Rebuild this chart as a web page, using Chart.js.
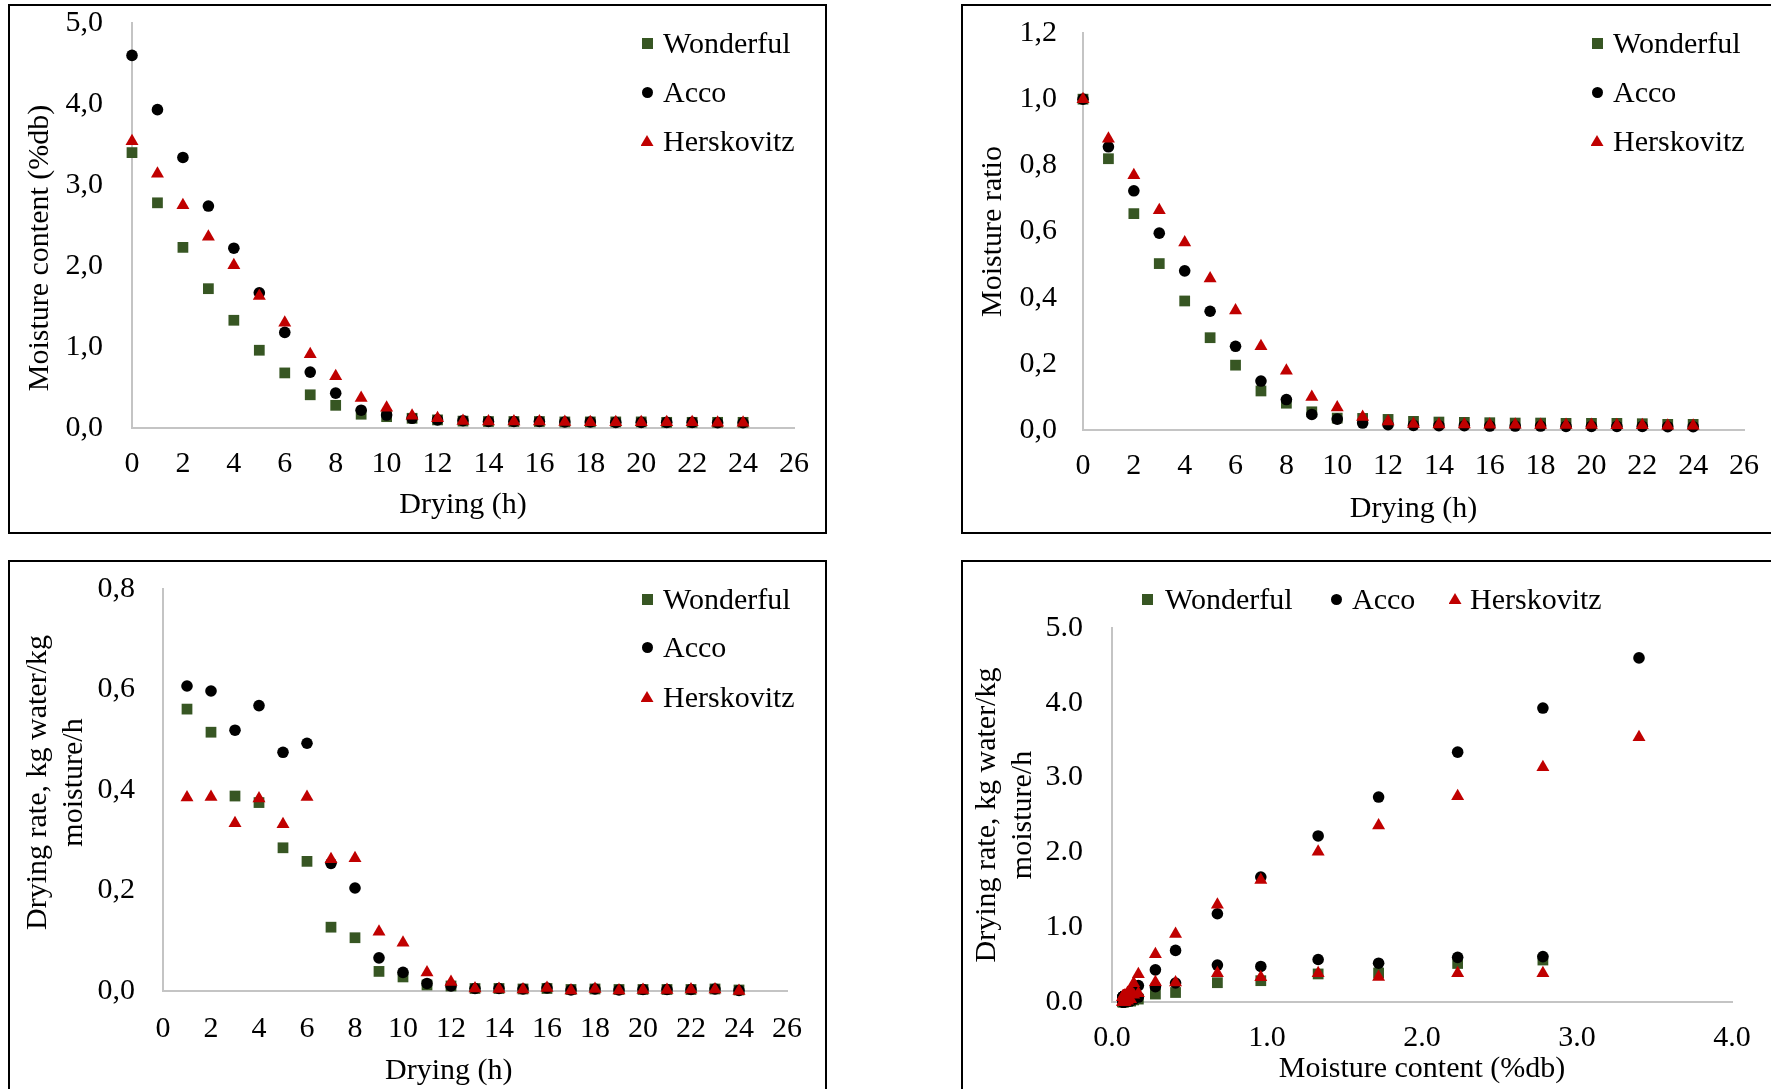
<!DOCTYPE html>
<html>
<head>
<meta charset="utf-8">
<script src="https://cdn.jsdelivr.net/npm/chart.js@4.4.0/dist/chart.umd.min.js"></script>
<style>
  body { margin: 0; width: 1771px; height: 1089px; overflow: hidden; background: #fff; position: relative; font-family: "Liberation Serif", "Times New Roman", serif; }
  canvas { position: absolute; }
  .frame { position: absolute; border: 2px solid #000; box-sizing: border-box; pointer-events: none; }
  .leg { position: absolute; font-size: 30px; line-height: 30px; color: #000; white-space: nowrap; }
  .mk { position: absolute; }
</style>
</head>
<body>
<canvas id="c1" width="816" height="528" style="left:9px;top:5px;width:816px;height:528px"></canvas>
<canvas id="c2" width="809" height="528" style="left:962px;top:5px;width:809px;height:528px"></canvas>
<canvas id="c3" width="816" height="528" style="left:9px;top:561px;width:816px;height:528px"></canvas>
<canvas id="c4" width="809" height="528" style="left:962px;top:561px;width:809px;height:528px"></canvas>
<div class="frame" style="left:8px;top:4px;width:819px;height:530px"></div>
<div class="frame" style="left:961px;top:4px;width:820px;height:530px"></div>
<div class="frame" style="left:8px;top:560px;width:819px;height:540px"></div>
<div class="frame" style="left:961px;top:560px;width:820px;height:540px"></div>
<script>
// drying time (h)
const hours = [0, 1, 2, 3, 4, 5, 6, 7, 8, 9, 10, 11, 12, 13, 14, 15, 16, 17, 18, 19, 20, 21, 22, 23, 24];
const rateHours = [1, 2, 3, 4, 5, 6, 7, 8, 9, 10, 11, 12, 13, 14, 15, 16, 17, 18, 19, 20, 21, 22, 23, 24];

// moisture content (%db)
const mcWonderful = [3.40, 2.78, 2.23, 1.72, 1.33, 0.96, 0.68, 0.41, 0.28, 0.17, 0.14, 0.12, 0.10, 0.085, 0.08, 0.08, 0.08, 0.075, 0.075, 0.075, 0.075, 0.07, 0.07, 0.07, 0.07];
const mcAcco = [4.60, 3.93, 3.34, 2.74, 2.22, 1.67, 1.18, 0.69, 0.43, 0.22, 0.16, 0.12, 0.10, 0.09, 0.08, 0.08, 0.08, 0.075, 0.075, 0.07, 0.07, 0.07, 0.07, 0.065, 0.065];
const mcHerskovitz = [3.54, 3.14, 2.75, 2.36, 2.01, 1.63, 1.30, 0.91, 0.64, 0.37, 0.25, 0.15, 0.12, 0.085, 0.08, 0.08, 0.08, 0.075, 0.07, 0.07, 0.07, 0.07, 0.07, 0.065, 0.065];

// moisture ratio
const mrWonderful = [1.0, 0.82, 0.654, 0.503, 0.39, 0.279, 0.196, 0.118, 0.081, 0.055, 0.036, 0.035, 0.032, 0.026, 0.024, 0.023, 0.022, 0.021, 0.021, 0.020, 0.020, 0.020, 0.019, 0.017, 0.017];
const mrAcco = [1.0, 0.856, 0.723, 0.595, 0.481, 0.359, 0.253, 0.148, 0.092, 0.047, 0.033, 0.021, 0.016, 0.014, 0.013, 0.013, 0.012, 0.012, 0.012, 0.011, 0.011, 0.011, 0.011, 0.010, 0.010];
const mrHerskovitz = [1.0, 0.88, 0.77, 0.664, 0.567, 0.458, 0.361, 0.253, 0.179, 0.10, 0.068, 0.039, 0.026, 0.018, 0.017, 0.017, 0.016, 0.016, 0.015, 0.015, 0.015, 0.014, 0.014, 0.013, 0.013];

// drying rate, kg water/kg moisture/h (from hour 1)
const drWonderful = [0.561, 0.515, 0.388, 0.375, 0.285, 0.258, 0.127, 0.106, 0.039, 0.028, 0.012, 0.010, 0.005, 0.005, 0.004, 0.005, 0.003, 0.004, 0.003, 0.003, 0.003, 0.003, 0.004, 0.002];
const drAcco = [0.607, 0.597, 0.519, 0.568, 0.475, 0.493, 0.254, 0.205, 0.066, 0.037, 0.015, 0.010, 0.005, 0.005, 0.004, 0.006, 0.002, 0.004, 0.002, 0.003, 0.003, 0.003, 0.004, 0.001];
const drHerskovitz = [0.385, 0.386, 0.334, 0.383, 0.332, 0.386, 0.262, 0.264, 0.118, 0.096, 0.037, 0.018, 0.005, 0.004, 0.003, 0.006, 0.001, 0.004, 0.001, 0.002, 0.002, 0.003, 0.003, 0.0];

const seriesNames = ['Wonderful', 'Acco', 'Herskovitz'];

const FONT = '"Liberation Serif", "Times New Roman", serif';
const AXIS = '#c4c4c4';
const STYLES = {
    Wonderful: { shape: 'rect', r: 7.6, color: '#375623', order: 2 },
    Acco: { shape: 'circle', r: 5.8, color: '#000000', order: 1 },
    Herskovitz: { shape: 'triangle', r: 7.5, color: '#c00000', order: 0 }
};
const NB = '\u00a0';

function series(name, xs, ys) {
    const st = STYLES[name];
    return {
        label: name,
        data: xs.map((x, i) => ({ x: x, y: ys[i] })),
        pointStyle: st.shape,
        pointRadius: st.r,
        pointHoverRadius: st.r,
        backgroundColor: st.color,
        borderColor: st.color,
        pointBorderWidth: 0,
        showLine: false,
        clip: false,
        order: st.order
    };
}

const comma = v => Number(v).toFixed(1).replace('.', ',');
const dot = v => Number(v).toFixed(1);
const whole = v => String(v);

// axis boxes keep a fixed size, and their label overhang must not move the plot area
function fixBox(s, size) {
    if (s.isHorizontal()) s.height = size; else s.width = size;
    s.paddingTop = 0; s.paddingBottom = 0; s.paddingLeft = 0; s.paddingRight = 0;
}

function scatterChart(id, area, datasets, xa, ya) {
    const canvas = document.getElementById(id);
    const W = canvas.width, H = canvas.height;
    const tickFont = { family: FONT, size: 30, lineHeight: 1 };
    const titleFont = { family: FONT, size: 30, lineHeight: 1.2 };
    return new Chart(canvas, {
        type: 'scatter',
        data: { datasets: datasets },
        options: {
            responsive: false,
            animation: false,
            devicePixelRatio: 1,
            layout: { padding: { left: 0, top: area.top, right: W - area.right, bottom: 0 } },
            plugins: { legend: { display: false }, tooltip: { enabled: false } },
            scales: {
                x: {
                    type: 'linear', min: xa.min, max: xa.max,
                    afterFit: s => fixBox(s, H - area.bottom),
                    grid: { display: false, drawTicks: false },
                    border: { display: true, color: AXIS, width: 2 },
                    ticks: { stepSize: xa.step, padding: xa.pad, color: '#000', font: tickFont, maxRotation: 0, autoSkip: false, callback: xa.fmt },
                    title: { display: true, text: xa.title, color: '#000', font: titleFont, padding: { top: 0, bottom: xa.titlePad } }
                },
                y: {
                    type: 'linear', min: ya.min, max: ya.max,
                    afterFit: s => fixBox(s, area.left),
                    grid: { display: false, drawTicks: false },
                    border: { display: true, color: AXIS, width: 2 },
                    ticks: { stepSize: ya.step, padding: ya.pad, color: '#000', font: tickFont, autoSkip: false, callback: ya.fmt },
                    title: { display: true, text: ya.title, color: '#000', font: titleFont, padding: { top: ya.titlePad, bottom: 0 } }
                }
            }
        }
    });
}

// Moisture content vs drying time
scatterChart('c1', { left: 123, right: 785, top: 18, bottom: 423 },
    [series('Wonderful', hours, mcWonderful), series('Acco', hours, mcAcco), series('Herskovitz', hours, mcHerskovitz)],
    { min: 0, max: 26, step: 2, pad: 21, fmt: whole, title: 'Drying (h)', titlePad: 10 },
    { min: 0, max: 5, step: 1, pad: 29, fmt: comma, title: 'Moisture content (%db)' + NB.repeat(6), titlePad: 13 });

// Moisture ratio vs drying time
scatterChart('c2', { left: 121, right: 782, top: 28, bottom: 425 },
    [series('Wonderful', hours, mrWonderful), series('Acco', hours, mrAcco), series('Herskovitz', hours, mrHerskovitz)],
    { min: 0, max: 26, step: 2, pad: 21, fmt: whole, title: 'Drying (h)', titlePad: 6 },
    { min: 0, max: 1.2, step: 0.2, pad: 26, fmt: comma, title: 'Moisture ratio', titlePad: 13 });

// Drying rate vs drying time
scatterChart('c3', { left: 154, right: 778, top: 28, bottom: 430 },
    [series('Wonderful', rateHours, drWonderful), series('Acco', rateHours, drAcco), series('Herskovitz', rateHours, drHerskovitz)],
    { min: 0, max: 26, step: 2, pad: 23, fmt: whole, title: 'Drying (h)' + NB.repeat(7), titlePad: 0 },
    { min: 0, max: 0.8, step: 0.2, pad: 28, fmt: comma, title: [NB + NB + 'Drying rate, kg water/kg', NB + NB + 'moisture/h'], titlePad: 11 });

// Drying rate / moisture vs moisture content (x = Wonderful moisture content)
const mcAxisRate = mcWonderful.slice(1);
const c4Sets = [
    series('Acco', mcWonderful, mcAcco),
    series('Herskovitz', mcWonderful, mcHerskovitz),
    series('Wonderful', mcAxisRate, drWonderful),
    series('Acco', mcAxisRate, drAcco),
    series('Herskovitz', mcAxisRate, drHerskovitz)
];
scatterChart('c4', { left: 150, right: 770, top: 67, bottom: 441 }, c4Sets,
    { min: 0, max: 4, step: 1, pad: 21, fmt: dot, title: 'Moisture content (%db)', titlePad: 2 },
    { min: 0, max: 5, step: 1, pad: 29, fmt: dot, title: ['Drying rate, kg water/kg', 'moisture/h'], titlePad: 7 });

// legends (page positions of each entry: marker centre and text start)
const legendSpots = [
    [[647, 43, 663], [647, 92, 663], [647, 141, 663]],
    [[1597, 43, 1613], [1597, 92, 1613], [1597, 141, 1613]],
    [[647, 599, 663], [647, 647, 663], [647, 697, 663]],
    [[1147, 599, 1165], [1336, 599, 1352], [1455, 599, 1470]]
];

function addMarker(shape, color, cx, cy) {
    const m = document.createElement('div');
    m.className = 'mk';
    if (shape === 'triangle') {
        m.style.cssText = `left:${cx - 6.5}px;top:${cy - 6}px;width:13px;height:11px;background:${color};clip-path:polygon(50% 0,100% 100%,0 100%)`;
    } else {
        const radius = shape === 'circle' ? '50%' : '0';
        m.style.cssText = `left:${cx - 5.5}px;top:${cy - 5.5}px;width:11px;height:11px;background:${color};border-radius:${radius}`;
    }
    document.body.appendChild(m);
}

legendSpots.forEach(panel => {
    panel.forEach((spot, i) => {
        const name = seriesNames[i];
        addMarker(STYLES[name].shape, STYLES[name].color, spot[0], spot[1]);
        const t = document.createElement('div');
        t.className = 'leg';
        t.style.left = spot[2] + 'px';
        t.style.top = (spot[1] - 15) + 'px';
        t.textContent = name;
        document.body.appendChild(t);
    });
});
</script>
</body>
</html>
